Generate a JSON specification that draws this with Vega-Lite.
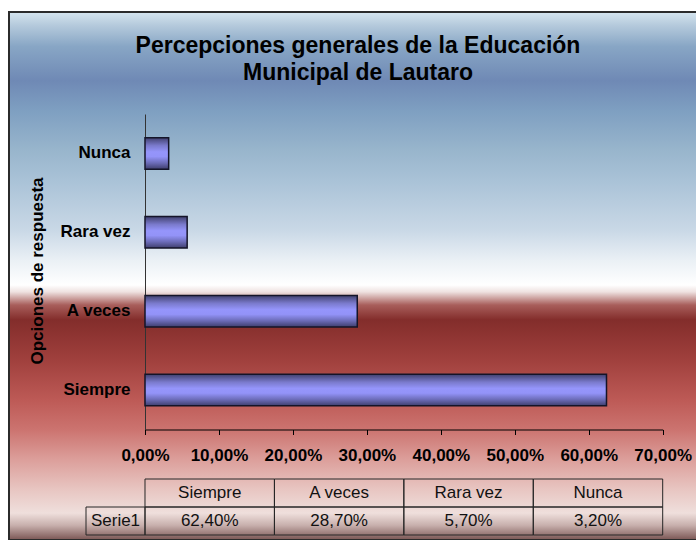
{
  "$schema": "https://vega.github.io/schema/vega-lite/v6.json",
  "width": 698,
  "height": 528,
  "autosize": "none",
  "padding": {"left": 9, "top": 12, "right": 0, "bottom": 0},
  "background": "#ffffff",
  "title": {
    "text": ["Percepciones generales de la Educación", "Municipal de Lautaro"],
    "font": "Liberation Sans",
    "fontSize": 23,
    "fontWeight": "bold",
    "color": "#000000",
    "anchor": "middle",
    "frame": "group",
    "lineHeight": 26.6,
    "offset": -73
  },
  "datasets": {
    "respuestas": [
      {"opcion": "Siempre", "valor": 0.624},
      {"opcion": "A veces", "valor": 0.287},
      {"opcion": "Rara vez", "valor": 0.057},
      {"opcion": "Nunca", "valor": 0.032}
    ],
    "serie": [{"serie": "Serie1"}]
  },
  "layer": [
    {
      "data": {"name": "respuestas"},
      "mark": {
        "type": "bar",
        "orient": "horizontal",
        "stroke": "#141428",
        "strokeWidth": 1.5,
        "color": {
          "gradient": "linear",
          "x1": 0, "y1": 0, "x2": 0, "y2": 1,
          "stops": [
            {"offset": 0, "color": "#40406e"},
            {"offset": 0.25, "color": "#7a7acc"},
            {"offset": 0.45, "color": "#9595fb"},
            {"offset": 0.6, "color": "#9393f8"},
            {"offset": 0.8, "color": "#6c6cb8"},
            {"offset": 1, "color": "#3e3e6c"}
          ]
        }
      },
      "encoding": {
        "x": {
          "field": "valor",
          "type": "quantitative",
          "scale": {"domain": [0, 0.7], "range": [136, 653.7], "nice": false, "zero": true},
          "axis": {
            "orient": "bottom",
            "offset": -110.5,
            "values": [0, 0.1, 0.2, 0.3, 0.4, 0.5, 0.6, 0.7],
            "format": ".2%",
            "labelExpr": "replace(datum.label, '.', ',')",
            "grid": false,
            "title": null,
            "tickSize": 5,
            "tickColor": "#000000",
            "domainColor": "#000000",
            "labelPadding": 13,
            "labelFlush": false,
            "labelOverlap": false
          }
        },
        "y": {
          "field": "opcion",
          "type": "nominal",
          "sort": ["Nunca", "Rara vez", "A veces", "Siempre"],
          "scale": {"range": [102, 417.5], "paddingInner": 0.6, "paddingOuter": 0.3},
          "axis": {
            "orient": "left",
            "offset": -136,
            "ticks": false,
            "labelPadding": 15,
            "domainColor": "#333333",
            "title": "Opciones de respuesta",
            "titleX": -103,
            "titleY": 258.5,
            "titleAngle": -90,
            "titleAlign": "center",
            "titleBaseline": "alphabetic"
          }
        }
      }
    },
    {
      "data": {"name": "respuestas"},
      "layer": [
        {
          "mark": {"type": "rect", "fill": "#ffffff", "fillOpacity": 0, "stroke": "#262626", "strokeWidth": 1},
          "encoding": {
            "x": {"field": "opcion", "type": "nominal", "sort": ["Siempre", "A veces", "Rara vez", "Nunca"], "scale": {"range": [136, 653.7], "paddingInner": 0, "paddingOuter": 0}, "axis": null},
            "y": {"datum": "Categoría", "type": "nominal", "scale": {"domain": ["Categoría", "Serie1"], "range": [467, 523], "paddingInner": 0, "paddingOuter": 0}, "axis": null}
          }
        },
        {
          "mark": {"type": "rect", "fill": "#ffffff", "fillOpacity": 0, "stroke": "#262626", "strokeWidth": 1},
          "encoding": {
            "x": {"field": "opcion", "type": "nominal", "sort": ["Siempre", "A veces", "Rara vez", "Nunca"], "axis": null},
            "y": {"datum": "Serie1", "type": "nominal", "axis": null}
          }
        },
        {
          "mark": {"type": "text", "font": "Liberation Sans", "fontSize": 17, "color": "#111111", "baseline": "middle", "align": "center"},
          "encoding": {
            "x": {"field": "opcion", "type": "nominal", "sort": ["Siempre", "A veces", "Rara vez", "Nunca"], "axis": null},
            "y": {"datum": "Categoría", "type": "nominal", "axis": null},
            "text": {"field": "opcion", "type": "nominal"}
          }
        },
        {
          "mark": {"type": "text", "font": "Liberation Sans", "fontSize": 17, "color": "#111111", "baseline": "middle", "align": "center"},
          "encoding": {
            "x": {"field": "opcion", "type": "nominal", "sort": ["Siempre", "A veces", "Rara vez", "Nunca"], "axis": null},
            "y": {"datum": "Serie1", "type": "nominal", "axis": null},
            "text": {"field": "valor", "type": "quantitative", "format": ".2%"}
          }
        }
      ]
    },
    {
      "data": {"name": "serie"},
      "layer": [
        {
          "mark": {"type": "rect", "fill": "#ffffff", "fillOpacity": 0, "stroke": "#262626", "strokeWidth": 1},
          "encoding": {
            "x": {"field": "serie", "type": "nominal", "scale": {"range": [77, 136], "paddingInner": 0, "paddingOuter": 0}, "axis": null},
            "y": {"datum": "Serie1", "type": "nominal", "scale": {"domain": ["Categoría", "Serie1"], "range": [467, 523], "paddingInner": 0, "paddingOuter": 0}, "axis": null}
          }
        },
        {
          "mark": {"type": "text", "font": "Liberation Sans", "fontSize": 17, "color": "#111111", "baseline": "middle", "align": "center"},
          "encoding": {
            "x": {"field": "serie", "type": "nominal", "axis": null},
            "y": {"datum": "Serie1", "type": "nominal", "axis": null},
            "text": {"field": "serie", "type": "nominal"}
          }
        }
      ]
    }
  ],
  "resolve": {"scale": {"x": "independent", "y": "independent"}},
  "config": {
    "locale": {"number": {"decimal": ",", "thousands": ".", "grouping": [3], "currency": ["$", ""]}},
    "view": {
      "stroke": "#2b2b2b",
      "strokeWidth": 2,
      "fill": {
        "gradient": "linear",
        "x1": 0, "y1": 0, "x2": 0, "y2": 1,
        "stops": [
          {"offset": 0.0, "color": "#d5e5ef"},
          {"offset": 0.025, "color": "#b5cadc"},
          {"offset": 0.065, "color": "#88a6c5"},
          {"offset": 0.13, "color": "#6f89b5"},
          {"offset": 0.186, "color": "#7e9fc1"},
          {"offset": 0.261, "color": "#98b5cc"},
          {"offset": 0.318, "color": "#a9c2d7"},
          {"offset": 0.413, "color": "#c9d8e6"},
          {"offset": 0.47, "color": "#eaf0f5"},
          {"offset": 0.517, "color": "#ffffff"},
          {"offset": 0.53, "color": "#efe2e1"},
          {"offset": 0.555, "color": "#a85e5b"},
          {"offset": 0.583, "color": "#832d2b"},
          {"offset": 0.659, "color": "#a0403d"},
          {"offset": 0.735, "color": "#bd5a56"},
          {"offset": 0.792, "color": "#cc7470"},
          {"offset": 0.848, "color": "#dc9f9b"},
          {"offset": 0.905, "color": "#e8c6c2"},
          {"offset": 0.949, "color": "#efdfdc"},
          {"offset": 0.972, "color": "#c8b0ad"},
          {"offset": 1.0, "color": "#7a5553"}
        ]
      }
    },
    "axis": {
      "labelFont": "Liberation Sans",
      "labelFontSize": 17,
      "labelFontWeight": "bold",
      "labelColor": "#000000",
      "titleFont": "Liberation Sans",
      "titleFontSize": 17,
      "titleFontWeight": "bold",
      "titleColor": "#000000",
      "domainWidth": 1
    }
  }
}
